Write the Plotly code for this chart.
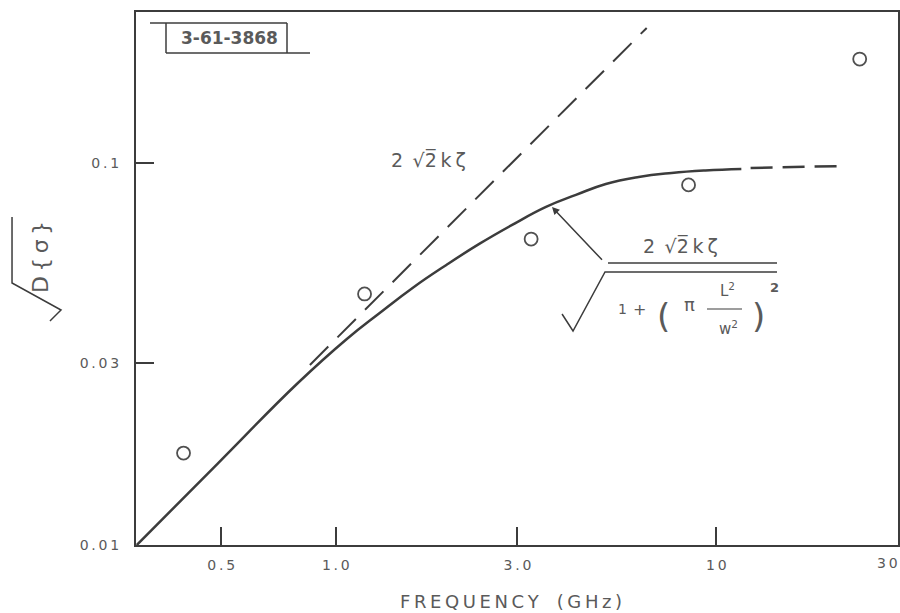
"""sqrt(D{sigma}) versus frequency, log-log"""
import plotly.graph_objects as go

# measured points (open circles)
meas_f = [0.398, 1.19, 3.26, 8.45, 23.8]
meas_y = [0.0174, 0.0454, 0.0632, 0.0876, 0.187]

# theory curve 2*sqrt(2)k*zeta / sqrt(1 + (pi L^2/w^2)^2)
curve_f = [0.30, 0.488, 0.795, 1.069, 1.304, 1.591, 1.952, 2.382, 2.907, 3.567,
           4.275, 5.122, 6.250, 7.626, 9.359, 11.63]
curve_y = [0.0100, 0.01629, 0.02655, 0.03462, 0.04049, 0.04708, 0.05408, 0.06137,
           0.06882, 0.07672, 0.08246, 0.08811, 0.09192, 0.09415, 0.09559, 0.09645]

# dashed extension of the curve
ext_f = [12.3, 21.8]
ext_y = [0.0970, 0.0982]

# low-frequency asymptote 2*sqrt(2)k*zeta
asym_f = [0.855, 6.56]
asym_y = [0.0296, 0.2256]

x_tickvals = [0.5, 1, 3, 10, 30]
x_ticktext = ["0\u2009.\u20095", "1\u2009.\u20090", "3\u2009.\u20090", "1\u20090", ""]
y_tickvals = [0.01, 0.03, 0.1]
y_ticktext = ["0\u2009.\u20090\u20091", "0\u2009.\u20090\u20093", "0\u2009.\u20091"]

INK = "#3c3c3c"
TXT = "#5a5a5a"
FONT = "DejaVu Sans"

# plot area in pixels, used to place the hand lettering
L, R, T, B = 136, 898, 12, 545


def px(x):
    return (x - L) / (R - L)


def py(y):
    return (B - y) / (B - T)


def path(pts):
    return "M " + " L ".join(f"{px(a):.4f},{py(b):.4f}" for a, b in pts)


fig = go.Figure()
fig.add_trace(go.Scatter(
    x=asym_f, y=asym_y, mode="lines",
    line=dict(color=INK, width=2, dash="26px,13px"),
))
fig.add_trace(go.Scatter(
    x=curve_f, y=curve_y, mode="lines",
    line=dict(color=INK, width=2.5, shape="spline", smoothing=1.3),
))
fig.add_trace(go.Scatter(
    x=ext_f, y=ext_y, mode="lines",
    line=dict(color=INK, width=2.5, dash="22px,10px"),
))
fig.add_trace(go.Scatter(
    x=meas_f, y=meas_y, mode="markers",
    marker=dict(symbol="circle-open", size=13, color="#505050", line=dict(width=1.8)),
))

line_style = dict(color=INK, width=1.5)
shapes = [
    # drawing number box
    dict(type="line", xref="paper", yref="paper", x0=px(150), y0=py(23), x1=px(287), y1=py(23), line=line_style),
    dict(type="line", xref="paper", yref="paper", x0=px(166), y0=py(53), x1=px(310), y1=py(53), line=line_style),
    dict(type="line", xref="paper", yref="paper", x0=px(166), y0=py(23), x1=px(166), y1=py(53), line=line_style),
    dict(type="line", xref="paper", yref="paper", x0=px(287), y0=py(23), x1=px(287), y1=py(53), line=line_style),
    # fraction bar and radical
    dict(type="line", xref="paper", yref="paper", x0=px(608), y0=py(263), x1=px(777), y1=py(263), line=line_style),
    dict(type="path", xref="paper", yref="paper",
         path=path([(562, 314), (573, 331), (605, 272), (777, 272)]), line=line_style),
    dict(type="line", xref="paper", yref="paper", x0=px(707), y0=py(309), x1=px(742), y1=py(309),
         line=dict(color=INK, width=1.2)),
    # radical of the y title
    dict(type="path", xref="paper", yref="paper",
         path=path([(12, 217), (12, 283), (61, 310), (50, 321)]), line=line_style),
]


def lab(x, y, text, size=16, angle=0, bold=False):
    return dict(xref="paper", yref="paper", x=px(x), y=py(y), text=text,
                showarrow=False, textangle=angle, xanchor="center", yanchor="middle",
                font=dict(family=FONT, size=size, color=TXT, weight="bold" if bold else "normal"))


kz = "2\u2002\u221a2\u0305\u2009k\u2009\u03b6"

annotations = [
    lab(229, 38, "3-61-3868", size=17, bold=True),
    lab(428, 160, kz, size=19),
    lab(680, 246, kz, size=19),
    lab(622, 309, "1", size=14),
    lab(639, 309, "+", size=16),
    lab(663, 316, "(", size=34),
    lab(689, 304, "\u03c0", size=18),
    lab(727, 290, "L<sup>2</sup>", size=15),
    lab(728, 328, "w<sup>2</sup>", size=15),
    lab(758, 316, ")", size=34),
    lab(774, 287, "2", size=13, bold=True),
    lab(40, 257, "D\u2009{\u2009\u03c3\u2009}", size=22, angle=-90),
    lab(887, 563, "3\u20090", size=14),
    lab(511, 601, "F\u2009R\u2009E\u2009Q\u2009U\u2009E\u2009N\u2009C\u2009Y\u2003(\u2009G\u2009H\u2009z\u2009)", size=18),
    dict(xref="paper", yref="paper", x=px(552), y=py(207), ax=53, ay=56, text=" ",
         showarrow=True, arrowhead=2, arrowsize=1, arrowwidth=1.5, arrowcolor=INK, standoff=0),
]

axis = dict(
    type="log", showgrid=False, zeroline=False,
    showline=True, linecolor=INK, linewidth=2, mirror=True,
    ticks="inside", ticklen=18, tickwidth=1.5, tickcolor=INK,
    tickfont=dict(family=FONT, size=14, color=TXT),
    ticklabeloverflow="allow", automargin=False,
)

fig.update_layout(
    width=900, height=613,
    margin=dict(l=L, r=900 - R, t=T, b=613 - B, autoexpand=False),
    paper_bgcolor="white", plot_bgcolor="white",
    showlegend=False,
    xaxis=dict(axis, range=[-0.525, 1.4772], tickvals=x_tickvals, ticktext=x_ticktext,
               ticklabelstandoff=6),
    yaxis=dict(axis, range=[-2, -0.605], tickvals=y_tickvals, ticktext=y_ticktext,
               ticklabelstandoff=12),
    shapes=shapes,
    annotations=annotations,
)

fig.write_html("out.html", config={"displayModeBar": False},
               post_script="document.body.style.margin='0';")
